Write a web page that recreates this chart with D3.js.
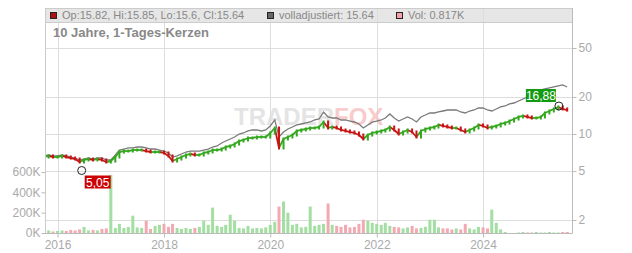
<!DOCTYPE html>
<head>
  <meta charset="utf-8">
  <script src="https://d3js.org/d3.v7.min.js"></script>
  <style>
    body { margin:0; background:#fff; }
    text { font-family: Arial, "Liberation Sans", sans-serif; }
    .axis path.domain { display:none; }
    .axis line { stroke:#bbb; }
    .axis text { fill:#aaa; font-size:12px; }
  </style>
</head>
<body>
  <script>
    var width = 632;
    var height = 253;
    var plot = {left:45, right:572, top:8, header:22, bottom:233};

    // monthly data, first and last month
    var firstMonth = "2015-10";
    var lastMonth = "2025-08";

    // monthly closes (candles)
    var closeValues = [
      6.50, 6.63, 6.50,                                                        // 2015
      6.50, 6.63, 6.50, 6.38, 6.26, 5.92, 6.15, 6.26, 6.15, 6.26, 6.15, 5.92,  // 2016
      6.03, 6.50, 7.14, 7.27, 7.27, 7.41, 7.41, 7.41, 7.27, 7.14, 7.14, 7.14,  // 2017
      7.01, 6.63, 6.03, 6.26, 6.50, 6.75, 6.88, 6.75, 6.75, 7.01, 7.14, 7.41,  // 2018
      7.41, 7.55, 7.84, 7.99, 8.29, 8.77, 8.94, 9.28, 9.28, 9.45, 9.45, 9.45,  // 2019
      10.19, 11.19, 7.70, 9.11, 9.45, 9.81, 10.58, 10.78, 10.98, 11.19, 11.19, 11.40, // 2020
      12.52, 11.19, 11.40, 11.19, 10.78, 10.58, 10.38, 10.19, 9.81, 9.11, 9.81, 10.19, // 2021
      10.38, 10.58, 10.78, 11.40, 10.78, 10.00, 10.38, 10.78, 10.38, 9.45, 10.58, 10.98, // 2022
      11.19, 11.40, 11.84, 11.62, 11.40, 11.19, 11.19, 10.78, 10.38, 10.78, 11.19, 11.84, // 2023
      11.62, 11.19, 11.40, 11.62, 12.06, 12.29, 12.75, 13.24, 13.75, 14.01, 13.75, 13.49, // 2024
      13.49, 13.75, 14.82, 15.38, 15.97, 16.58, 15.97, 15.64                   // 2025
    ];

    // "volladjustiert" line
    var adjValues = [
      6.63, 6.75, 6.63,
      6.63, 6.75, 6.63, 6.50, 6.38, 6.15, 6.26, 6.38, 6.26, 6.38, 6.38, 6.15,
      6.15, 6.75, 7.41, 7.55, 7.70, 7.70, 7.84, 7.84, 7.70, 7.55, 7.55, 7.41,
      7.27, 7.01, 6.50, 6.63, 6.88, 7.14, 7.27, 7.27, 7.27, 7.41, 7.55, 7.84,
      7.99, 8.45, 8.77, 9.11, 9.45, 10.00, 10.19, 10.58, 10.78, 10.78, 10.58, 10.78,
      11.62, 13.00, 9.45, 10.38, 10.98, 11.40, 11.84, 12.06, 12.29, 12.52, 13.00, 13.24,
      15.10, 13.75, 13.49, 13.49, 13.00, 13.00, 12.75, 12.52, 12.06, 11.19, 11.84, 12.52,
      12.75, 13.00, 13.49, 14.54, 13.49, 12.75, 13.24, 13.75, 13.24, 12.52, 13.75, 14.27,
      14.82, 14.82, 15.10, 15.38, 15.67, 15.67, 15.67, 15.10, 14.82, 15.38, 15.67, 16.27,
      16.27, 15.67, 15.38, 15.97, 16.58, 16.89, 17.54, 17.86, 18.55, 19.26, 19.99, 21.14,
      21.95, 22.79, 23.22, 23.66, 24.11, 24.56, 25.03, 24.11
    ];

    // volume in K
    var volumeValues = [
      20, 25, 15,
      20, 25, 20, 30, 25, 35, 60, 25, 30, 25, 40, 45,
      570, 50, 90, 50, 60, 170, 55, 50, 120, 40, 70, 80,
      90, 60, 90, 50, 40, 50, 40, 50, 60, 120, 80, 250,
      70, 60, 80, 180, 120, 50, 45, 70, 45, 50, 45, 55,
      80, 110, 260, 310, 200, 80, 90, 55, 60, 260, 70, 80,
      90, 290, 80, 70, 60, 80, 55, 60, 90, 130, 120, 100,
      90, 80, 100, 70, 60, 55, 45, 55, 70, 45, 50, 60,
      130, 130, 55, 45, 45, 35, 45, 35, 90, 45, 35, 60,
      55, 45, 230, 100, 35, 10, 0, 0, 5, 10, 5, 5,
      10, 5, 5, 10, 5, 5, 10, 10
    ];

    var priceTicks = [2, 5, 10, 20, 50];
    var volumeTicks = [0, 200, 400, 600];
    var yearTicks = [2016, 2018, 2020, 2022, 2024];

    var lowMark = {date: "2016-06-15", value: 5.05, label: "5,05"};
    var highMark = {date: "2025-06-05", value: 16.88, label: "16,88"};

    var legendItems = [
      {text: "Op:15.82, Hi:15.85, Lo:15.6, Cl:15.64", color: "#b01010", x: 50},
      {text: "volladjustiert: 15.64", color: "#666", x: 267},
      {text: "Vol: 0.817K", color: "#f0a3ab", x: 396}
    ];
    var title = "10 Jahre, 1-Tages-Kerzen";

    var parseMonth = d3.timeParse("%Y-%m");
    var parseDay = d3.timeParse("%Y-%m-%d");
    var dates = d3.timeMonth.range(parseMonth(firstMonth), d3.timeMonth.offset(parseMonth(lastMonth), 1));

    var data = dates.map(function(d, i){
      return {date: d, close: closeValues[i], open: i > 0 ? closeValues[i-1] : closeValues[i],
              adj: adjValues[i], vol: volumeValues[i]};
    });

    var x = d3.scaleTime()
      .domain([new Date(2015, 9, 7), new Date(2025, 8, 3)])
      .range([plot.left, plot.right]);
    var yPrice = d3.scaleLog().domain([10, 50]).range([134, 48]);
    var yVol = d3.scaleLinear().domain([0, 600]).range([plot.bottom, 172]);

    var svg = d3.select('body').append('svg')
      .attr('width', width).attr('height', height);

    svg.append('defs').append('clipPath').attr('id', 'clip')
      .append('rect')
      .attr('x', plot.left).attr('y', plot.header)
      .attr('width', plot.right - plot.left).attr('height', plot.bottom - plot.header);

    // header band
    svg.append('rect')
      .attr('x', plot.left).attr('y', plot.top)
      .attr('width', plot.right - plot.left).attr('height', plot.header - plot.top)
      .attr('fill', '#e6e6e6');

    // grid
    var grid = svg.append('g').attr('stroke', '#ddd').attr('stroke-width', 1);
    grid.selectAll('.hgrid').data(priceTicks).enter().append('line')
      .attr('class', 'hgrid')
      .attr('x1', plot.left).attr('x2', plot.right)
      .attr('y1', d => Math.round(yPrice(d)) + 0.5).attr('y2', d => Math.round(yPrice(d)) + 0.5);
    grid.selectAll('.vgrid').data(yearTicks).enter().append('line')
      .attr('class', 'vgrid')
      .attr('x1', d => Math.round(x(new Date(d, 0, 1))) + 0.5)
      .attr('x2', d => Math.round(x(new Date(d, 0, 1))) + 0.5)
      .attr('y1', plot.top).attr('y2', plot.bottom);
    grid.append('line')
      .attr('x1', plot.left).attr('x2', plot.right)
      .attr('y1', plot.header + 0.5).attr('y2', plot.header + 0.5)
      .attr('stroke', '#ccc');

    // watermark
    var wm = svg.append('text')
      .attr('x', 234).attr('y', 125)
      .attr('font-size', '24px').attr('font-weight', 'bold')
      .attr('opacity', 0.85);
    wm.append('tspan').attr('fill', '#e0e0e0').text('TRADER');
    wm.append('tspan').attr('fill', '#f7c4c4').text('FOX');

    var g = svg.append('g').attr('clip-path', 'url(#clip)');

    // volume bars
    g.selectAll('.vol').data(data).enter().append('rect')
      .attr('class', 'vol')
      .attr('x', d => x(d.date) - 1.5)
      .attr('width', 3)
      .attr('y', d => yVol(d.vol))
      .attr('height', d => plot.bottom - yVol(d.vol))
      .attr('fill', d => d.close >= d.open ? '#a3dea3' : '#f2a9b2');

    // adjusted line
    g.append('path')
      .datum(data)
      .attr('fill', 'none')
      .attr('stroke', '#7a7a7a')
      .attr('stroke-width', 1.3)
      .attr('d', d3.line().x(d => x(d.date)).y(d => yPrice(d.adj)));

    // candles drawn as up/down segments plus small bodies
    var candles = data.slice(1);
    g.selectAll('.seg').data(candles).enter().append('line')
      .attr('class', 'seg')
      .attr('x1', (d, i) => x(data[i].date)).attr('x2', d => x(d.date))
      .attr('y1', d => yPrice(d.open)).attr('y2', d => yPrice(d.close))
      .attr('stroke', d => d.close >= d.open ? '#33a81e' : '#c81414')
      .attr('stroke-width', 1.8);
    g.selectAll('.body').data(candles).enter().append('rect')
      .attr('class', 'body')
      .attr('x', d => x(d.date) - 1)
      .attr('width', 2)
      .attr('y', d => Math.min(yPrice(d.open), yPrice(d.close)) - 1.5)
      .attr('height', d => Math.abs(yPrice(d.open) - yPrice(d.close)) + 3)
      .attr('fill', d => d.close >= d.open ? '#33a81e' : '#c81414');

    // high / low markers
    function marker(m, color, dx, dy, w) {
      var mx = x(parseDay(m.date)), my = yPrice(m.value);
      svg.append('circle')
        .attr('cx', mx).attr('cy', my).attr('r', 4)
        .attr('fill', 'none').attr('stroke', '#222').attr('stroke-width', 1);
      svg.append('rect')
        .attr('x', mx + dx).attr('y', my + dy)
        .attr('width', w).attr('height', 13)
        .attr('fill', color);
      svg.append('text')
        .attr('x', mx + dx + w / 2).attr('y', my + dy + 11)
        .attr('text-anchor', 'middle')
        .attr('font-size', '12px').attr('fill', '#fff')
        .text(m.label);
    }
    marker(lowMark, '#cc0000', 3, 5, 26);
    marker(highMark, '#139a13', -33, -17, 30);

    // frame
    var frame = svg.append('g').attr('stroke', '#bbb').attr('stroke-width', 1);
    frame.append('line').attr('x1', plot.left).attr('x2', plot.right + 0.5)
      .attr('y1', plot.top + 0.5).attr('y2', plot.top + 0.5).attr('stroke', '#ccc');
    frame.append('line').attr('x1', plot.left + 0.5).attr('x2', plot.left + 0.5)
      .attr('y1', plot.top).attr('y2', plot.bottom).attr('stroke', '#ccc');
    frame.append('line').attr('x1', plot.right + 0.5).attr('x2', plot.right + 0.5)
      .attr('y1', plot.top).attr('y2', plot.bottom + 0.5);
    frame.append('line').attr('x1', plot.left).attr('x2', plot.right + 0.5)
      .attr('y1', plot.bottom + 0.5).attr('y2', plot.bottom + 0.5);

    // axes
    svg.append('g').attr('class', 'axis')
      .attr('transform', `translate(${plot.right + 0.5},0)`)
      .call(d3.axisRight(yPrice).tickValues(priceTicks).tickFormat(d3.format('d')).tickSize(4).tickPadding(2));
    svg.append('g').attr('class', 'axis')
      .attr('transform', `translate(${plot.left + 0.5},0)`)
      .call(d3.axisLeft(yVol).tickValues(volumeTicks).tickFormat(d => d + 'K').tickSize(4).tickPadding(1));
    svg.append('g').attr('class', 'axis')
      .attr('transform', `translate(0,${plot.bottom + 0.5})`)
      .call(d3.axisBottom(x).tickValues(yearTicks.map(d => new Date(d, 0, 1)))
        .tickFormat(d3.timeFormat('%Y')).tickSize(4).tickPadding(3));

    // legend
    var leg = svg.selectAll('.legend').data(legendItems).enter().append('g').attr('class', 'legend');
    leg.append('rect')
      .attr('x', d => d.x + 0.5).attr('y', 12.5).attr('width', 6).attr('height', 6)
      .attr('fill', d => d.color).attr('stroke', '#222');
    leg.append('text')
      .attr('x', d => d.x + 12).attr('y', 19)
      .attr('font-size', '11px').attr('fill', '#888')
      .text(d => d.text);

    svg.append('text')
      .attr('x', 53).attr('y', 37)
      .attr('font-size', '13px').attr('font-weight', 'bold').attr('fill', '#888')
      .text(title);
  </script>
</body>
